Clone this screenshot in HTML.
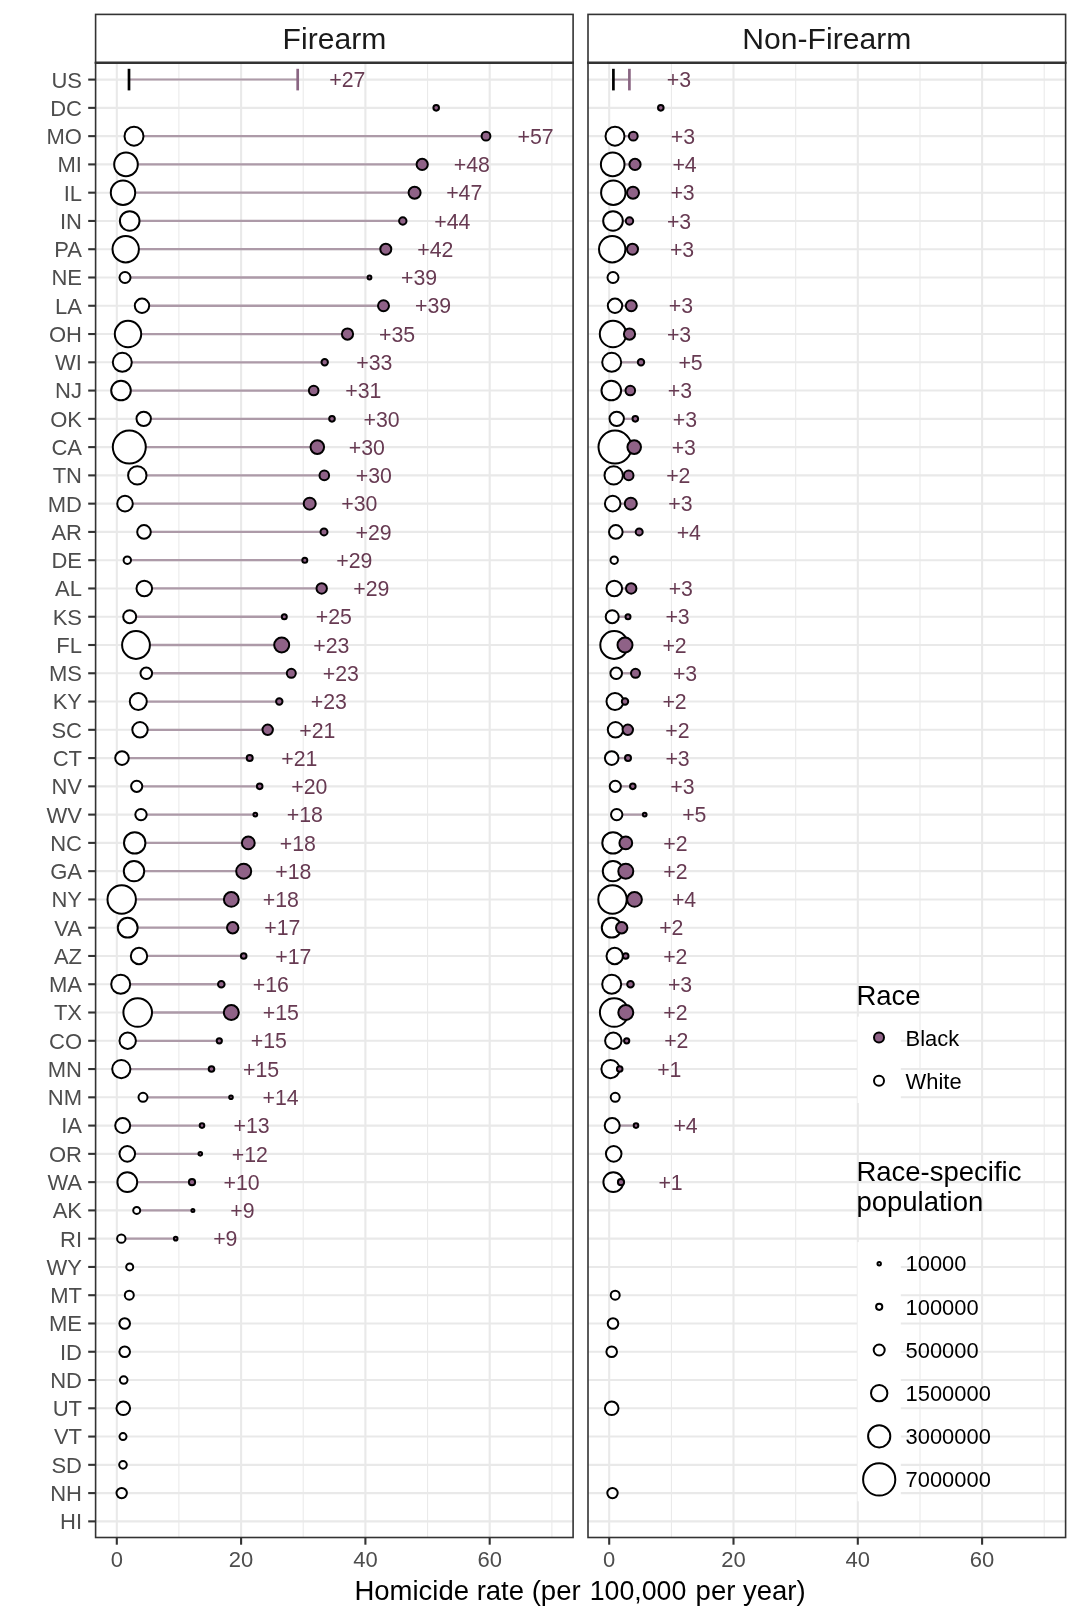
<!DOCTYPE html>
<html><head><meta charset="utf-8"><title>Homicide rate chart</title>
<style>html,body{margin:0;padding:0;background:#fff}svg{display:block;will-change:transform;transform:translateZ(0)}</style>
</head><body>
<svg width="1080" height="1620" viewBox="0 0 1080 1620" font-family="'Liberation Sans', sans-serif">
<rect width="1080" height="1620" fill="#ffffff"/>
<g id="panel0">
<g stroke="#e9e9e9" fill="none">
<line x1="178.9" y1="62.8" x2="178.9" y2="1537.5" stroke-width="1.05"/>
<line x1="303.2" y1="62.8" x2="303.2" y2="1537.5" stroke-width="1.05"/>
<line x1="427.6" y1="62.8" x2="427.6" y2="1537.5" stroke-width="1.05"/>
<line x1="551.9" y1="62.8" x2="551.9" y2="1537.5" stroke-width="1.05"/>
<line x1="116.8" y1="62.8" x2="116.8" y2="1537.5" stroke-width="2.1"/>
<line x1="241.1" y1="62.8" x2="241.1" y2="1537.5" stroke-width="2.1"/>
<line x1="365.4" y1="62.8" x2="365.4" y2="1537.5" stroke-width="2.1"/>
<line x1="489.7" y1="62.8" x2="489.7" y2="1537.5" stroke-width="2.1"/>
<line x1="95.6" y1="79.60" x2="573.1" y2="79.60" stroke-width="2.1"/>
<line x1="95.6" y1="107.87" x2="573.1" y2="107.87" stroke-width="2.1"/>
<line x1="95.6" y1="136.14" x2="573.1" y2="136.14" stroke-width="2.1"/>
<line x1="95.6" y1="164.41" x2="573.1" y2="164.41" stroke-width="2.1"/>
<line x1="95.6" y1="192.68" x2="573.1" y2="192.68" stroke-width="2.1"/>
<line x1="95.6" y1="220.95" x2="573.1" y2="220.95" stroke-width="2.1"/>
<line x1="95.6" y1="249.22" x2="573.1" y2="249.22" stroke-width="2.1"/>
<line x1="95.6" y1="277.49" x2="573.1" y2="277.49" stroke-width="2.1"/>
<line x1="95.6" y1="305.76" x2="573.1" y2="305.76" stroke-width="2.1"/>
<line x1="95.6" y1="334.03" x2="573.1" y2="334.03" stroke-width="2.1"/>
<line x1="95.6" y1="362.30" x2="573.1" y2="362.30" stroke-width="2.1"/>
<line x1="95.6" y1="390.57" x2="573.1" y2="390.57" stroke-width="2.1"/>
<line x1="95.6" y1="418.84" x2="573.1" y2="418.84" stroke-width="2.1"/>
<line x1="95.6" y1="447.11" x2="573.1" y2="447.11" stroke-width="2.1"/>
<line x1="95.6" y1="475.38" x2="573.1" y2="475.38" stroke-width="2.1"/>
<line x1="95.6" y1="503.65" x2="573.1" y2="503.65" stroke-width="2.1"/>
<line x1="95.6" y1="531.92" x2="573.1" y2="531.92" stroke-width="2.1"/>
<line x1="95.6" y1="560.19" x2="573.1" y2="560.19" stroke-width="2.1"/>
<line x1="95.6" y1="588.46" x2="573.1" y2="588.46" stroke-width="2.1"/>
<line x1="95.6" y1="616.73" x2="573.1" y2="616.73" stroke-width="2.1"/>
<line x1="95.6" y1="645.00" x2="573.1" y2="645.00" stroke-width="2.1"/>
<line x1="95.6" y1="673.27" x2="573.1" y2="673.27" stroke-width="2.1"/>
<line x1="95.6" y1="701.54" x2="573.1" y2="701.54" stroke-width="2.1"/>
<line x1="95.6" y1="729.81" x2="573.1" y2="729.81" stroke-width="2.1"/>
<line x1="95.6" y1="758.08" x2="573.1" y2="758.08" stroke-width="2.1"/>
<line x1="95.6" y1="786.35" x2="573.1" y2="786.35" stroke-width="2.1"/>
<line x1="95.6" y1="814.62" x2="573.1" y2="814.62" stroke-width="2.1"/>
<line x1="95.6" y1="842.89" x2="573.1" y2="842.89" stroke-width="2.1"/>
<line x1="95.6" y1="871.16" x2="573.1" y2="871.16" stroke-width="2.1"/>
<line x1="95.6" y1="899.43" x2="573.1" y2="899.43" stroke-width="2.1"/>
<line x1="95.6" y1="927.70" x2="573.1" y2="927.70" stroke-width="2.1"/>
<line x1="95.6" y1="955.97" x2="573.1" y2="955.97" stroke-width="2.1"/>
<line x1="95.6" y1="984.24" x2="573.1" y2="984.24" stroke-width="2.1"/>
<line x1="95.6" y1="1012.51" x2="573.1" y2="1012.51" stroke-width="2.1"/>
<line x1="95.6" y1="1040.78" x2="573.1" y2="1040.78" stroke-width="2.1"/>
<line x1="95.6" y1="1069.05" x2="573.1" y2="1069.05" stroke-width="2.1"/>
<line x1="95.6" y1="1097.32" x2="573.1" y2="1097.32" stroke-width="2.1"/>
<line x1="95.6" y1="1125.59" x2="573.1" y2="1125.59" stroke-width="2.1"/>
<line x1="95.6" y1="1153.86" x2="573.1" y2="1153.86" stroke-width="2.1"/>
<line x1="95.6" y1="1182.13" x2="573.1" y2="1182.13" stroke-width="2.1"/>
<line x1="95.6" y1="1210.40" x2="573.1" y2="1210.40" stroke-width="2.1"/>
<line x1="95.6" y1="1238.67" x2="573.1" y2="1238.67" stroke-width="2.1"/>
<line x1="95.6" y1="1266.94" x2="573.1" y2="1266.94" stroke-width="2.1"/>
<line x1="95.6" y1="1295.21" x2="573.1" y2="1295.21" stroke-width="2.1"/>
<line x1="95.6" y1="1323.48" x2="573.1" y2="1323.48" stroke-width="2.1"/>
<line x1="95.6" y1="1351.75" x2="573.1" y2="1351.75" stroke-width="2.1"/>
<line x1="95.6" y1="1380.02" x2="573.1" y2="1380.02" stroke-width="2.1"/>
<line x1="95.6" y1="1408.29" x2="573.1" y2="1408.29" stroke-width="2.1"/>
<line x1="95.6" y1="1436.56" x2="573.1" y2="1436.56" stroke-width="2.1"/>
<line x1="95.6" y1="1464.83" x2="573.1" y2="1464.83" stroke-width="2.1"/>
<line x1="95.6" y1="1493.10" x2="573.1" y2="1493.10" stroke-width="2.1"/>
<line x1="95.6" y1="1521.37" x2="573.1" y2="1521.37" stroke-width="2.1"/>
</g>
</g>
<g id="panel1">
<g stroke="#e9e9e9" fill="none">
<line x1="671.4" y1="62.8" x2="671.4" y2="1537.5" stroke-width="1.05"/>
<line x1="795.7" y1="62.8" x2="795.7" y2="1537.5" stroke-width="1.05"/>
<line x1="920.0" y1="62.8" x2="920.0" y2="1537.5" stroke-width="1.05"/>
<line x1="1044.2" y1="62.8" x2="1044.2" y2="1537.5" stroke-width="1.05"/>
<line x1="609.2" y1="62.8" x2="609.2" y2="1537.5" stroke-width="2.1"/>
<line x1="733.5" y1="62.8" x2="733.5" y2="1537.5" stroke-width="2.1"/>
<line x1="857.8" y1="62.8" x2="857.8" y2="1537.5" stroke-width="2.1"/>
<line x1="982.1" y1="62.8" x2="982.1" y2="1537.5" stroke-width="2.1"/>
<line x1="588.0" y1="79.60" x2="1065.6" y2="79.60" stroke-width="2.1"/>
<line x1="588.0" y1="107.87" x2="1065.6" y2="107.87" stroke-width="2.1"/>
<line x1="588.0" y1="136.14" x2="1065.6" y2="136.14" stroke-width="2.1"/>
<line x1="588.0" y1="164.41" x2="1065.6" y2="164.41" stroke-width="2.1"/>
<line x1="588.0" y1="192.68" x2="1065.6" y2="192.68" stroke-width="2.1"/>
<line x1="588.0" y1="220.95" x2="1065.6" y2="220.95" stroke-width="2.1"/>
<line x1="588.0" y1="249.22" x2="1065.6" y2="249.22" stroke-width="2.1"/>
<line x1="588.0" y1="277.49" x2="1065.6" y2="277.49" stroke-width="2.1"/>
<line x1="588.0" y1="305.76" x2="1065.6" y2="305.76" stroke-width="2.1"/>
<line x1="588.0" y1="334.03" x2="1065.6" y2="334.03" stroke-width="2.1"/>
<line x1="588.0" y1="362.30" x2="1065.6" y2="362.30" stroke-width="2.1"/>
<line x1="588.0" y1="390.57" x2="1065.6" y2="390.57" stroke-width="2.1"/>
<line x1="588.0" y1="418.84" x2="1065.6" y2="418.84" stroke-width="2.1"/>
<line x1="588.0" y1="447.11" x2="1065.6" y2="447.11" stroke-width="2.1"/>
<line x1="588.0" y1="475.38" x2="1065.6" y2="475.38" stroke-width="2.1"/>
<line x1="588.0" y1="503.65" x2="1065.6" y2="503.65" stroke-width="2.1"/>
<line x1="588.0" y1="531.92" x2="1065.6" y2="531.92" stroke-width="2.1"/>
<line x1="588.0" y1="560.19" x2="1065.6" y2="560.19" stroke-width="2.1"/>
<line x1="588.0" y1="588.46" x2="1065.6" y2="588.46" stroke-width="2.1"/>
<line x1="588.0" y1="616.73" x2="1065.6" y2="616.73" stroke-width="2.1"/>
<line x1="588.0" y1="645.00" x2="1065.6" y2="645.00" stroke-width="2.1"/>
<line x1="588.0" y1="673.27" x2="1065.6" y2="673.27" stroke-width="2.1"/>
<line x1="588.0" y1="701.54" x2="1065.6" y2="701.54" stroke-width="2.1"/>
<line x1="588.0" y1="729.81" x2="1065.6" y2="729.81" stroke-width="2.1"/>
<line x1="588.0" y1="758.08" x2="1065.6" y2="758.08" stroke-width="2.1"/>
<line x1="588.0" y1="786.35" x2="1065.6" y2="786.35" stroke-width="2.1"/>
<line x1="588.0" y1="814.62" x2="1065.6" y2="814.62" stroke-width="2.1"/>
<line x1="588.0" y1="842.89" x2="1065.6" y2="842.89" stroke-width="2.1"/>
<line x1="588.0" y1="871.16" x2="1065.6" y2="871.16" stroke-width="2.1"/>
<line x1="588.0" y1="899.43" x2="1065.6" y2="899.43" stroke-width="2.1"/>
<line x1="588.0" y1="927.70" x2="1065.6" y2="927.70" stroke-width="2.1"/>
<line x1="588.0" y1="955.97" x2="1065.6" y2="955.97" stroke-width="2.1"/>
<line x1="588.0" y1="984.24" x2="1065.6" y2="984.24" stroke-width="2.1"/>
<line x1="588.0" y1="1012.51" x2="1065.6" y2="1012.51" stroke-width="2.1"/>
<line x1="588.0" y1="1040.78" x2="1065.6" y2="1040.78" stroke-width="2.1"/>
<line x1="588.0" y1="1069.05" x2="1065.6" y2="1069.05" stroke-width="2.1"/>
<line x1="588.0" y1="1097.32" x2="1065.6" y2="1097.32" stroke-width="2.1"/>
<line x1="588.0" y1="1125.59" x2="1065.6" y2="1125.59" stroke-width="2.1"/>
<line x1="588.0" y1="1153.86" x2="1065.6" y2="1153.86" stroke-width="2.1"/>
<line x1="588.0" y1="1182.13" x2="1065.6" y2="1182.13" stroke-width="2.1"/>
<line x1="588.0" y1="1210.40" x2="1065.6" y2="1210.40" stroke-width="2.1"/>
<line x1="588.0" y1="1238.67" x2="1065.6" y2="1238.67" stroke-width="2.1"/>
<line x1="588.0" y1="1266.94" x2="1065.6" y2="1266.94" stroke-width="2.1"/>
<line x1="588.0" y1="1295.21" x2="1065.6" y2="1295.21" stroke-width="2.1"/>
<line x1="588.0" y1="1323.48" x2="1065.6" y2="1323.48" stroke-width="2.1"/>
<line x1="588.0" y1="1351.75" x2="1065.6" y2="1351.75" stroke-width="2.1"/>
<line x1="588.0" y1="1380.02" x2="1065.6" y2="1380.02" stroke-width="2.1"/>
<line x1="588.0" y1="1408.29" x2="1065.6" y2="1408.29" stroke-width="2.1"/>
<line x1="588.0" y1="1436.56" x2="1065.6" y2="1436.56" stroke-width="2.1"/>
<line x1="588.0" y1="1464.83" x2="1065.6" y2="1464.83" stroke-width="2.1"/>
<line x1="588.0" y1="1493.10" x2="1065.6" y2="1493.10" stroke-width="2.1"/>
<line x1="588.0" y1="1521.37" x2="1065.6" y2="1521.37" stroke-width="2.1"/>
</g>
</g>
<rect x="857.6" y="1016.6" width="43.2" height="86.4" fill="#ffffff"/>
<rect x="857.6" y="1242.1" width="43.2" height="259.2" fill="#ffffff"/>
<line x1="129.0" y1="79.60" x2="297.7" y2="79.60" stroke="#ad9aa8" stroke-width="2"/>
<line x1="129.0" y1="68.80" x2="129.0" y2="90.40" stroke="#000000" stroke-width="2.7"/>
<line x1="297.7" y1="68.80" x2="297.7" y2="90.40" stroke="#8a6582" stroke-width="2.7"/>
<text x="347.3" y="87.30" font-size="21.3" fill="#673a52" text-anchor="middle">+27</text>
<line x1="613.4" y1="79.60" x2="629.4" y2="79.60" stroke="#ad9aa8" stroke-width="2"/>
<line x1="613.4" y1="68.80" x2="613.4" y2="90.40" stroke="#000000" stroke-width="2.7"/>
<line x1="629.4" y1="68.80" x2="629.4" y2="90.40" stroke="#8a6582" stroke-width="2.7"/>
<text x="679.0" y="87.30" font-size="21.3" fill="#673a52" text-anchor="middle">+3</text>
<g id="segs">
<line x1="134.0" y1="136.14" x2="486.0" y2="136.14" stroke="#ad9aa8" stroke-width="2.3"/>
<line x1="126.0" y1="164.41" x2="422.2" y2="164.41" stroke="#ad9aa8" stroke-width="2.3"/>
<line x1="123.0" y1="192.68" x2="414.6" y2="192.68" stroke="#ad9aa8" stroke-width="2.3"/>
<line x1="129.7" y1="220.95" x2="402.8" y2="220.95" stroke="#ad9aa8" stroke-width="2.3"/>
<line x1="125.7" y1="249.22" x2="385.8" y2="249.22" stroke="#ad9aa8" stroke-width="2.3"/>
<line x1="125.0" y1="277.49" x2="369.5" y2="277.49" stroke="#ad9aa8" stroke-width="2.3"/>
<line x1="142.0" y1="305.76" x2="383.5" y2="305.76" stroke="#ad9aa8" stroke-width="2.3"/>
<line x1="128.0" y1="334.03" x2="347.5" y2="334.03" stroke="#ad9aa8" stroke-width="2.3"/>
<line x1="122.3" y1="362.30" x2="324.7" y2="362.30" stroke="#ad9aa8" stroke-width="2.3"/>
<line x1="121.0" y1="390.57" x2="313.7" y2="390.57" stroke="#ad9aa8" stroke-width="2.3"/>
<line x1="143.7" y1="418.84" x2="332.0" y2="418.84" stroke="#ad9aa8" stroke-width="2.3"/>
<line x1="129.3" y1="447.11" x2="317.3" y2="447.11" stroke="#ad9aa8" stroke-width="2.3"/>
<line x1="137.3" y1="475.38" x2="324.3" y2="475.38" stroke="#ad9aa8" stroke-width="2.3"/>
<line x1="125.0" y1="503.65" x2="309.7" y2="503.65" stroke="#ad9aa8" stroke-width="2.3"/>
<line x1="144.0" y1="531.92" x2="324.0" y2="531.92" stroke="#ad9aa8" stroke-width="2.3"/>
<line x1="127.3" y1="560.19" x2="304.8" y2="560.19" stroke="#ad9aa8" stroke-width="2.3"/>
<line x1="144.3" y1="588.46" x2="321.7" y2="588.46" stroke="#ad9aa8" stroke-width="2.3"/>
<line x1="129.7" y1="616.73" x2="284.3" y2="616.73" stroke="#ad9aa8" stroke-width="2.3"/>
<line x1="136.0" y1="645.00" x2="281.7" y2="645.00" stroke="#ad9aa8" stroke-width="2.3"/>
<line x1="146.3" y1="673.27" x2="291.3" y2="673.27" stroke="#ad9aa8" stroke-width="2.3"/>
<line x1="138.3" y1="701.54" x2="279.3" y2="701.54" stroke="#ad9aa8" stroke-width="2.3"/>
<line x1="140.0" y1="729.81" x2="267.7" y2="729.81" stroke="#ad9aa8" stroke-width="2.3"/>
<line x1="122.0" y1="758.08" x2="249.7" y2="758.08" stroke="#ad9aa8" stroke-width="2.3"/>
<line x1="136.7" y1="786.35" x2="259.7" y2="786.35" stroke="#ad9aa8" stroke-width="2.3"/>
<line x1="141.0" y1="814.62" x2="255.3" y2="814.62" stroke="#ad9aa8" stroke-width="2.3"/>
<line x1="134.7" y1="842.89" x2="248.3" y2="842.89" stroke="#ad9aa8" stroke-width="2.3"/>
<line x1="134.0" y1="871.16" x2="243.7" y2="871.16" stroke="#ad9aa8" stroke-width="2.3"/>
<line x1="121.7" y1="899.43" x2="231.3" y2="899.43" stroke="#ad9aa8" stroke-width="2.3"/>
<line x1="127.7" y1="927.70" x2="232.7" y2="927.70" stroke="#ad9aa8" stroke-width="2.3"/>
<line x1="139.0" y1="955.97" x2="243.7" y2="955.97" stroke="#ad9aa8" stroke-width="2.3"/>
<line x1="120.7" y1="984.24" x2="221.3" y2="984.24" stroke="#ad9aa8" stroke-width="2.3"/>
<line x1="137.7" y1="1012.51" x2="231.3" y2="1012.51" stroke="#ad9aa8" stroke-width="2.3"/>
<line x1="127.7" y1="1040.78" x2="219.3" y2="1040.78" stroke="#ad9aa8" stroke-width="2.3"/>
<line x1="121.3" y1="1069.05" x2="211.5" y2="1069.05" stroke="#ad9aa8" stroke-width="2.3"/>
<line x1="143.0" y1="1097.32" x2="231.0" y2="1097.32" stroke="#ad9aa8" stroke-width="2.3"/>
<line x1="122.7" y1="1125.59" x2="202.0" y2="1125.59" stroke="#ad9aa8" stroke-width="2.3"/>
<line x1="127.3" y1="1153.86" x2="200.3" y2="1153.86" stroke="#ad9aa8" stroke-width="2.3"/>
<line x1="127.3" y1="1182.13" x2="192.0" y2="1182.13" stroke="#ad9aa8" stroke-width="2.3"/>
<line x1="136.7" y1="1210.40" x2="192.9" y2="1210.40" stroke="#ad9aa8" stroke-width="2.3"/>
<line x1="121.3" y1="1238.67" x2="175.7" y2="1238.67" stroke="#ad9aa8" stroke-width="2.3"/>
<line x1="615.0" y1="136.14" x2="633.3" y2="136.14" stroke="#ad9aa8" stroke-width="2.3"/>
<line x1="612.7" y1="164.41" x2="635.0" y2="164.41" stroke="#ad9aa8" stroke-width="2.3"/>
<line x1="613.3" y1="192.68" x2="633.0" y2="192.68" stroke="#ad9aa8" stroke-width="2.3"/>
<line x1="613.0" y1="220.95" x2="629.5" y2="220.95" stroke="#ad9aa8" stroke-width="2.3"/>
<line x1="612.2" y1="249.22" x2="632.5" y2="249.22" stroke="#ad9aa8" stroke-width="2.3"/>
<line x1="615.0" y1="305.76" x2="631.3" y2="305.76" stroke="#ad9aa8" stroke-width="2.3"/>
<line x1="613.0" y1="334.03" x2="629.5" y2="334.03" stroke="#ad9aa8" stroke-width="2.3"/>
<line x1="611.7" y1="362.30" x2="641.0" y2="362.30" stroke="#ad9aa8" stroke-width="2.3"/>
<line x1="611.3" y1="390.57" x2="630.3" y2="390.57" stroke="#ad9aa8" stroke-width="2.3"/>
<line x1="616.7" y1="418.84" x2="635.3" y2="418.84" stroke="#ad9aa8" stroke-width="2.3"/>
<line x1="615.0" y1="447.11" x2="634.2" y2="447.11" stroke="#ad9aa8" stroke-width="2.3"/>
<line x1="613.7" y1="475.38" x2="628.7" y2="475.38" stroke="#ad9aa8" stroke-width="2.3"/>
<line x1="612.7" y1="503.65" x2="630.8" y2="503.65" stroke="#ad9aa8" stroke-width="2.3"/>
<line x1="615.8" y1="531.92" x2="639.2" y2="531.92" stroke="#ad9aa8" stroke-width="2.3"/>
<line x1="614.3" y1="588.46" x2="631.2" y2="588.46" stroke="#ad9aa8" stroke-width="2.3"/>
<line x1="612.2" y1="616.73" x2="628.0" y2="616.73" stroke="#ad9aa8" stroke-width="2.3"/>
<line x1="614.2" y1="645.00" x2="625.0" y2="645.00" stroke="#ad9aa8" stroke-width="2.3"/>
<line x1="616.2" y1="673.27" x2="635.5" y2="673.27" stroke="#ad9aa8" stroke-width="2.3"/>
<line x1="615.0" y1="701.54" x2="625.0" y2="701.54" stroke="#ad9aa8" stroke-width="2.3"/>
<line x1="615.5" y1="729.81" x2="627.8" y2="729.81" stroke="#ad9aa8" stroke-width="2.3"/>
<line x1="611.7" y1="758.08" x2="628.0" y2="758.08" stroke="#ad9aa8" stroke-width="2.3"/>
<line x1="615.3" y1="786.35" x2="632.8" y2="786.35" stroke="#ad9aa8" stroke-width="2.3"/>
<line x1="616.7" y1="814.62" x2="644.7" y2="814.62" stroke="#ad9aa8" stroke-width="2.3"/>
<line x1="613.0" y1="842.89" x2="625.8" y2="842.89" stroke="#ad9aa8" stroke-width="2.3"/>
<line x1="613.0" y1="871.16" x2="625.8" y2="871.16" stroke="#ad9aa8" stroke-width="2.3"/>
<line x1="612.5" y1="899.43" x2="634.5" y2="899.43" stroke="#ad9aa8" stroke-width="2.3"/>
<line x1="611.7" y1="927.70" x2="621.7" y2="927.70" stroke="#ad9aa8" stroke-width="2.3"/>
<line x1="614.7" y1="955.97" x2="625.7" y2="955.97" stroke="#ad9aa8" stroke-width="2.3"/>
<line x1="611.7" y1="984.24" x2="630.5" y2="984.24" stroke="#ad9aa8" stroke-width="2.3"/>
<line x1="614.2" y1="1012.51" x2="625.8" y2="1012.51" stroke="#ad9aa8" stroke-width="2.3"/>
<line x1="613.3" y1="1040.78" x2="626.7" y2="1040.78" stroke="#ad9aa8" stroke-width="2.3"/>
<line x1="610.5" y1="1069.05" x2="619.7" y2="1069.05" stroke="#ad9aa8" stroke-width="2.3"/>
<line x1="612.2" y1="1125.59" x2="636.0" y2="1125.59" stroke="#ad9aa8" stroke-width="2.3"/>
<line x1="613.3" y1="1182.13" x2="621.0" y2="1182.13" stroke="#ad9aa8" stroke-width="2.3"/>
</g>
<g id="white">
<circle cx="134.0" cy="136.14" r="9.50" fill="#ffffff" stroke="#000000" stroke-width="2.0"/>
<circle cx="126.0" cy="164.41" r="11.80" fill="#ffffff" stroke="#000000" stroke-width="2.0"/>
<circle cx="123.0" cy="192.68" r="12.20" fill="#ffffff" stroke="#000000" stroke-width="2.0"/>
<circle cx="129.7" cy="220.95" r="9.80" fill="#ffffff" stroke="#000000" stroke-width="2.0"/>
<circle cx="125.7" cy="249.22" r="13.20" fill="#ffffff" stroke="#000000" stroke-width="2.0"/>
<circle cx="125.0" cy="277.49" r="5.50" fill="#ffffff" stroke="#000000" stroke-width="2.0"/>
<circle cx="142.0" cy="305.76" r="7.20" fill="#ffffff" stroke="#000000" stroke-width="2.0"/>
<circle cx="128.0" cy="334.03" r="13.20" fill="#ffffff" stroke="#000000" stroke-width="2.0"/>
<circle cx="122.3" cy="362.30" r="9.50" fill="#ffffff" stroke="#000000" stroke-width="2.0"/>
<circle cx="121.0" cy="390.57" r="9.80" fill="#ffffff" stroke="#000000" stroke-width="2.0"/>
<circle cx="143.7" cy="418.84" r="7.20" fill="#ffffff" stroke="#000000" stroke-width="2.0"/>
<circle cx="129.3" cy="447.11" r="16.50" fill="#ffffff" stroke="#000000" stroke-width="2.0"/>
<circle cx="137.3" cy="475.38" r="9.20" fill="#ffffff" stroke="#000000" stroke-width="2.0"/>
<circle cx="125.0" cy="503.65" r="7.80" fill="#ffffff" stroke="#000000" stroke-width="2.0"/>
<circle cx="144.0" cy="531.92" r="6.80" fill="#ffffff" stroke="#000000" stroke-width="2.0"/>
<circle cx="127.3" cy="560.19" r="3.70" fill="#ffffff" stroke="#000000" stroke-width="2.0"/>
<circle cx="144.3" cy="588.46" r="7.80" fill="#ffffff" stroke="#000000" stroke-width="2.0"/>
<circle cx="129.7" cy="616.73" r="6.50" fill="#ffffff" stroke="#000000" stroke-width="2.0"/>
<circle cx="136.0" cy="645.00" r="13.90" fill="#ffffff" stroke="#000000" stroke-width="2.0"/>
<circle cx="146.3" cy="673.27" r="5.80" fill="#ffffff" stroke="#000000" stroke-width="2.0"/>
<circle cx="138.3" cy="701.54" r="8.50" fill="#ffffff" stroke="#000000" stroke-width="2.0"/>
<circle cx="140.0" cy="729.81" r="7.70" fill="#ffffff" stroke="#000000" stroke-width="2.0"/>
<circle cx="122.0" cy="758.08" r="6.80" fill="#ffffff" stroke="#000000" stroke-width="2.0"/>
<circle cx="136.7" cy="786.35" r="5.60" fill="#ffffff" stroke="#000000" stroke-width="2.0"/>
<circle cx="141.0" cy="814.62" r="5.70" fill="#ffffff" stroke="#000000" stroke-width="2.0"/>
<circle cx="134.7" cy="842.89" r="10.70" fill="#ffffff" stroke="#000000" stroke-width="2.0"/>
<circle cx="134.0" cy="871.16" r="10.20" fill="#ffffff" stroke="#000000" stroke-width="2.0"/>
<circle cx="121.7" cy="899.43" r="14.20" fill="#ffffff" stroke="#000000" stroke-width="2.0"/>
<circle cx="127.7" cy="927.70" r="9.90" fill="#ffffff" stroke="#000000" stroke-width="2.0"/>
<circle cx="139.0" cy="955.97" r="8.20" fill="#ffffff" stroke="#000000" stroke-width="2.0"/>
<circle cx="120.7" cy="984.24" r="9.50" fill="#ffffff" stroke="#000000" stroke-width="2.0"/>
<circle cx="137.7" cy="1012.51" r="14.30" fill="#ffffff" stroke="#000000" stroke-width="2.0"/>
<circle cx="127.7" cy="1040.78" r="8.20" fill="#ffffff" stroke="#000000" stroke-width="2.0"/>
<circle cx="121.3" cy="1069.05" r="9.10" fill="#ffffff" stroke="#000000" stroke-width="2.0"/>
<circle cx="143.0" cy="1097.32" r="4.50" fill="#ffffff" stroke="#000000" stroke-width="2.0"/>
<circle cx="122.7" cy="1125.59" r="7.50" fill="#ffffff" stroke="#000000" stroke-width="2.0"/>
<circle cx="127.3" cy="1153.86" r="7.80" fill="#ffffff" stroke="#000000" stroke-width="2.0"/>
<circle cx="127.3" cy="1182.13" r="9.90" fill="#ffffff" stroke="#000000" stroke-width="2.0"/>
<circle cx="136.7" cy="1210.40" r="3.50" fill="#ffffff" stroke="#000000" stroke-width="2.0"/>
<circle cx="121.3" cy="1238.67" r="4.20" fill="#ffffff" stroke="#000000" stroke-width="2.0"/>
<circle cx="129.7" cy="1266.94" r="3.50" fill="#ffffff" stroke="#000000" stroke-width="2.0"/>
<circle cx="129.3" cy="1295.21" r="4.50" fill="#ffffff" stroke="#000000" stroke-width="2.0"/>
<circle cx="124.7" cy="1323.48" r="5.30" fill="#ffffff" stroke="#000000" stroke-width="2.0"/>
<circle cx="124.7" cy="1351.75" r="5.30" fill="#ffffff" stroke="#000000" stroke-width="2.0"/>
<circle cx="123.7" cy="1380.02" r="3.80" fill="#ffffff" stroke="#000000" stroke-width="2.0"/>
<circle cx="123.3" cy="1408.29" r="6.80" fill="#ffffff" stroke="#000000" stroke-width="2.0"/>
<circle cx="123.0" cy="1436.56" r="3.50" fill="#ffffff" stroke="#000000" stroke-width="2.0"/>
<circle cx="123.0" cy="1464.83" r="3.80" fill="#ffffff" stroke="#000000" stroke-width="2.0"/>
<circle cx="121.7" cy="1493.10" r="5.20" fill="#ffffff" stroke="#000000" stroke-width="2.0"/>
<circle cx="615.0" cy="136.14" r="9.50" fill="#ffffff" stroke="#000000" stroke-width="2.0"/>
<circle cx="612.7" cy="164.41" r="11.80" fill="#ffffff" stroke="#000000" stroke-width="2.0"/>
<circle cx="613.3" cy="192.68" r="12.20" fill="#ffffff" stroke="#000000" stroke-width="2.0"/>
<circle cx="613.0" cy="220.95" r="9.80" fill="#ffffff" stroke="#000000" stroke-width="2.0"/>
<circle cx="612.2" cy="249.22" r="13.20" fill="#ffffff" stroke="#000000" stroke-width="2.0"/>
<circle cx="613.0" cy="277.49" r="5.50" fill="#ffffff" stroke="#000000" stroke-width="2.0"/>
<circle cx="615.0" cy="305.76" r="7.20" fill="#ffffff" stroke="#000000" stroke-width="2.0"/>
<circle cx="613.0" cy="334.03" r="13.20" fill="#ffffff" stroke="#000000" stroke-width="2.0"/>
<circle cx="611.7" cy="362.30" r="9.50" fill="#ffffff" stroke="#000000" stroke-width="2.0"/>
<circle cx="611.3" cy="390.57" r="9.80" fill="#ffffff" stroke="#000000" stroke-width="2.0"/>
<circle cx="616.7" cy="418.84" r="7.20" fill="#ffffff" stroke="#000000" stroke-width="2.0"/>
<circle cx="615.0" cy="447.11" r="16.50" fill="#ffffff" stroke="#000000" stroke-width="2.0"/>
<circle cx="613.7" cy="475.38" r="9.20" fill="#ffffff" stroke="#000000" stroke-width="2.0"/>
<circle cx="612.7" cy="503.65" r="7.80" fill="#ffffff" stroke="#000000" stroke-width="2.0"/>
<circle cx="615.8" cy="531.92" r="6.80" fill="#ffffff" stroke="#000000" stroke-width="2.0"/>
<circle cx="614.2" cy="560.19" r="3.70" fill="#ffffff" stroke="#000000" stroke-width="2.0"/>
<circle cx="614.3" cy="588.46" r="7.80" fill="#ffffff" stroke="#000000" stroke-width="2.0"/>
<circle cx="612.2" cy="616.73" r="6.50" fill="#ffffff" stroke="#000000" stroke-width="2.0"/>
<circle cx="614.2" cy="645.00" r="13.90" fill="#ffffff" stroke="#000000" stroke-width="2.0"/>
<circle cx="616.2" cy="673.27" r="5.80" fill="#ffffff" stroke="#000000" stroke-width="2.0"/>
<circle cx="615.0" cy="701.54" r="8.50" fill="#ffffff" stroke="#000000" stroke-width="2.0"/>
<circle cx="615.5" cy="729.81" r="7.70" fill="#ffffff" stroke="#000000" stroke-width="2.0"/>
<circle cx="611.7" cy="758.08" r="6.80" fill="#ffffff" stroke="#000000" stroke-width="2.0"/>
<circle cx="615.3" cy="786.35" r="5.60" fill="#ffffff" stroke="#000000" stroke-width="2.0"/>
<circle cx="616.7" cy="814.62" r="5.70" fill="#ffffff" stroke="#000000" stroke-width="2.0"/>
<circle cx="613.0" cy="842.89" r="10.70" fill="#ffffff" stroke="#000000" stroke-width="2.0"/>
<circle cx="613.0" cy="871.16" r="10.20" fill="#ffffff" stroke="#000000" stroke-width="2.0"/>
<circle cx="612.5" cy="899.43" r="14.20" fill="#ffffff" stroke="#000000" stroke-width="2.0"/>
<circle cx="611.7" cy="927.70" r="9.90" fill="#ffffff" stroke="#000000" stroke-width="2.0"/>
<circle cx="614.7" cy="955.97" r="8.20" fill="#ffffff" stroke="#000000" stroke-width="2.0"/>
<circle cx="611.7" cy="984.24" r="9.50" fill="#ffffff" stroke="#000000" stroke-width="2.0"/>
<circle cx="614.2" cy="1012.51" r="14.30" fill="#ffffff" stroke="#000000" stroke-width="2.0"/>
<circle cx="613.3" cy="1040.78" r="8.20" fill="#ffffff" stroke="#000000" stroke-width="2.0"/>
<circle cx="610.5" cy="1069.05" r="9.10" fill="#ffffff" stroke="#000000" stroke-width="2.0"/>
<circle cx="615.2" cy="1097.32" r="4.50" fill="#ffffff" stroke="#000000" stroke-width="2.0"/>
<circle cx="612.2" cy="1125.59" r="7.50" fill="#ffffff" stroke="#000000" stroke-width="2.0"/>
<circle cx="613.7" cy="1153.86" r="7.80" fill="#ffffff" stroke="#000000" stroke-width="2.0"/>
<circle cx="613.3" cy="1182.13" r="9.90" fill="#ffffff" stroke="#000000" stroke-width="2.0"/>
<circle cx="615.2" cy="1295.21" r="4.50" fill="#ffffff" stroke="#000000" stroke-width="2.0"/>
<circle cx="613.0" cy="1323.48" r="5.30" fill="#ffffff" stroke="#000000" stroke-width="2.0"/>
<circle cx="611.7" cy="1351.75" r="5.30" fill="#ffffff" stroke="#000000" stroke-width="2.0"/>
<circle cx="611.7" cy="1408.29" r="6.80" fill="#ffffff" stroke="#000000" stroke-width="2.0"/>
<circle cx="612.5" cy="1493.10" r="5.20" fill="#ffffff" stroke="#000000" stroke-width="2.0"/>
</g>
<g id="black">
<circle cx="436.2" cy="107.87" r="2.80" fill="#8f6287" stroke="#000000" stroke-width="2.0"/>
<circle cx="486.0" cy="136.14" r="4.40" fill="#8f6287" stroke="#000000" stroke-width="2.0"/>
<circle cx="422.2" cy="164.41" r="5.60" fill="#8f6287" stroke="#000000" stroke-width="2.0"/>
<circle cx="414.6" cy="192.68" r="6.00" fill="#8f6287" stroke="#000000" stroke-width="2.0"/>
<circle cx="402.8" cy="220.95" r="3.70" fill="#8f6287" stroke="#000000" stroke-width="2.0"/>
<circle cx="385.8" cy="249.22" r="5.50" fill="#8f6287" stroke="#000000" stroke-width="2.0"/>
<circle cx="369.5" cy="277.49" r="1.90" fill="#8f6287" stroke="#000000" stroke-width="2.0"/>
<circle cx="383.5" cy="305.76" r="5.50" fill="#8f6287" stroke="#000000" stroke-width="2.0"/>
<circle cx="347.5" cy="334.03" r="5.60" fill="#8f6287" stroke="#000000" stroke-width="2.0"/>
<circle cx="324.7" cy="362.30" r="3.20" fill="#8f6287" stroke="#000000" stroke-width="2.0"/>
<circle cx="313.7" cy="390.57" r="4.80" fill="#8f6287" stroke="#000000" stroke-width="2.0"/>
<circle cx="332.0" cy="418.84" r="2.80" fill="#8f6287" stroke="#000000" stroke-width="2.0"/>
<circle cx="317.3" cy="447.11" r="6.80" fill="#8f6287" stroke="#000000" stroke-width="2.0"/>
<circle cx="324.3" cy="475.38" r="4.80" fill="#8f6287" stroke="#000000" stroke-width="2.0"/>
<circle cx="309.7" cy="503.65" r="6.00" fill="#8f6287" stroke="#000000" stroke-width="2.0"/>
<circle cx="324.0" cy="531.92" r="3.50" fill="#8f6287" stroke="#000000" stroke-width="2.0"/>
<circle cx="304.8" cy="560.19" r="2.50" fill="#8f6287" stroke="#000000" stroke-width="2.0"/>
<circle cx="321.7" cy="588.46" r="5.20" fill="#8f6287" stroke="#000000" stroke-width="2.0"/>
<circle cx="284.3" cy="616.73" r="2.50" fill="#8f6287" stroke="#000000" stroke-width="2.0"/>
<circle cx="281.7" cy="645.00" r="7.50" fill="#8f6287" stroke="#000000" stroke-width="2.0"/>
<circle cx="291.3" cy="673.27" r="4.50" fill="#8f6287" stroke="#000000" stroke-width="2.0"/>
<circle cx="279.3" cy="701.54" r="3.20" fill="#8f6287" stroke="#000000" stroke-width="2.0"/>
<circle cx="267.7" cy="729.81" r="5.20" fill="#8f6287" stroke="#000000" stroke-width="2.0"/>
<circle cx="249.7" cy="758.08" r="3.00" fill="#8f6287" stroke="#000000" stroke-width="2.0"/>
<circle cx="259.7" cy="786.35" r="2.80" fill="#8f6287" stroke="#000000" stroke-width="2.0"/>
<circle cx="255.3" cy="814.62" r="1.90" fill="#8f6287" stroke="#000000" stroke-width="2.0"/>
<circle cx="248.3" cy="842.89" r="6.40" fill="#8f6287" stroke="#000000" stroke-width="2.0"/>
<circle cx="243.7" cy="871.16" r="7.50" fill="#8f6287" stroke="#000000" stroke-width="2.0"/>
<circle cx="231.3" cy="899.43" r="7.40" fill="#8f6287" stroke="#000000" stroke-width="2.0"/>
<circle cx="232.7" cy="927.70" r="5.70" fill="#8f6287" stroke="#000000" stroke-width="2.0"/>
<circle cx="243.7" cy="955.97" r="2.80" fill="#8f6287" stroke="#000000" stroke-width="2.0"/>
<circle cx="221.3" cy="984.24" r="3.30" fill="#8f6287" stroke="#000000" stroke-width="2.0"/>
<circle cx="231.3" cy="1012.51" r="7.50" fill="#8f6287" stroke="#000000" stroke-width="2.0"/>
<circle cx="219.3" cy="1040.78" r="2.60" fill="#8f6287" stroke="#000000" stroke-width="2.0"/>
<circle cx="211.5" cy="1069.05" r="2.80" fill="#8f6287" stroke="#000000" stroke-width="2.0"/>
<circle cx="231.0" cy="1097.32" r="1.80" fill="#8f6287" stroke="#000000" stroke-width="2.0"/>
<circle cx="202.0" cy="1125.59" r="2.30" fill="#8f6287" stroke="#000000" stroke-width="2.0"/>
<circle cx="200.3" cy="1153.86" r="1.80" fill="#8f6287" stroke="#000000" stroke-width="2.0"/>
<circle cx="192.0" cy="1182.13" r="3.10" fill="#8f6287" stroke="#000000" stroke-width="2.0"/>
<circle cx="192.9" cy="1210.40" r="1.50" fill="#8f6287" stroke="#000000" stroke-width="2.0"/>
<circle cx="175.7" cy="1238.67" r="1.80" fill="#8f6287" stroke="#000000" stroke-width="2.0"/>
<circle cx="660.8" cy="107.87" r="2.80" fill="#8f6287" stroke="#000000" stroke-width="2.0"/>
<circle cx="633.3" cy="136.14" r="4.40" fill="#8f6287" stroke="#000000" stroke-width="2.0"/>
<circle cx="635.0" cy="164.41" r="5.60" fill="#8f6287" stroke="#000000" stroke-width="2.0"/>
<circle cx="633.0" cy="192.68" r="6.00" fill="#8f6287" stroke="#000000" stroke-width="2.0"/>
<circle cx="629.5" cy="220.95" r="3.70" fill="#8f6287" stroke="#000000" stroke-width="2.0"/>
<circle cx="632.5" cy="249.22" r="5.50" fill="#8f6287" stroke="#000000" stroke-width="2.0"/>
<circle cx="631.3" cy="305.76" r="5.50" fill="#8f6287" stroke="#000000" stroke-width="2.0"/>
<circle cx="629.5" cy="334.03" r="5.60" fill="#8f6287" stroke="#000000" stroke-width="2.0"/>
<circle cx="641.0" cy="362.30" r="3.20" fill="#8f6287" stroke="#000000" stroke-width="2.0"/>
<circle cx="630.3" cy="390.57" r="4.80" fill="#8f6287" stroke="#000000" stroke-width="2.0"/>
<circle cx="635.3" cy="418.84" r="2.80" fill="#8f6287" stroke="#000000" stroke-width="2.0"/>
<circle cx="634.2" cy="447.11" r="6.80" fill="#8f6287" stroke="#000000" stroke-width="2.0"/>
<circle cx="628.7" cy="475.38" r="4.80" fill="#8f6287" stroke="#000000" stroke-width="2.0"/>
<circle cx="630.8" cy="503.65" r="6.00" fill="#8f6287" stroke="#000000" stroke-width="2.0"/>
<circle cx="639.2" cy="531.92" r="3.50" fill="#8f6287" stroke="#000000" stroke-width="2.0"/>
<circle cx="631.2" cy="588.46" r="5.20" fill="#8f6287" stroke="#000000" stroke-width="2.0"/>
<circle cx="628.0" cy="616.73" r="2.50" fill="#8f6287" stroke="#000000" stroke-width="2.0"/>
<circle cx="625.0" cy="645.00" r="7.50" fill="#8f6287" stroke="#000000" stroke-width="2.0"/>
<circle cx="635.5" cy="673.27" r="4.50" fill="#8f6287" stroke="#000000" stroke-width="2.0"/>
<circle cx="625.0" cy="701.54" r="3.20" fill="#8f6287" stroke="#000000" stroke-width="2.0"/>
<circle cx="627.8" cy="729.81" r="5.20" fill="#8f6287" stroke="#000000" stroke-width="2.0"/>
<circle cx="628.0" cy="758.08" r="3.00" fill="#8f6287" stroke="#000000" stroke-width="2.0"/>
<circle cx="632.8" cy="786.35" r="2.80" fill="#8f6287" stroke="#000000" stroke-width="2.0"/>
<circle cx="644.7" cy="814.62" r="1.90" fill="#8f6287" stroke="#000000" stroke-width="2.0"/>
<circle cx="625.8" cy="842.89" r="6.40" fill="#8f6287" stroke="#000000" stroke-width="2.0"/>
<circle cx="625.8" cy="871.16" r="7.50" fill="#8f6287" stroke="#000000" stroke-width="2.0"/>
<circle cx="634.5" cy="899.43" r="7.40" fill="#8f6287" stroke="#000000" stroke-width="2.0"/>
<circle cx="621.7" cy="927.70" r="5.70" fill="#8f6287" stroke="#000000" stroke-width="2.0"/>
<circle cx="625.7" cy="955.97" r="2.80" fill="#8f6287" stroke="#000000" stroke-width="2.0"/>
<circle cx="630.5" cy="984.24" r="3.30" fill="#8f6287" stroke="#000000" stroke-width="2.0"/>
<circle cx="625.8" cy="1012.51" r="7.50" fill="#8f6287" stroke="#000000" stroke-width="2.0"/>
<circle cx="626.7" cy="1040.78" r="2.60" fill="#8f6287" stroke="#000000" stroke-width="2.0"/>
<circle cx="619.7" cy="1069.05" r="2.80" fill="#8f6287" stroke="#000000" stroke-width="2.0"/>
<circle cx="636.0" cy="1125.59" r="2.30" fill="#8f6287" stroke="#000000" stroke-width="2.0"/>
<circle cx="621.0" cy="1182.13" r="3.10" fill="#8f6287" stroke="#000000" stroke-width="2.0"/>
</g>
<g id="labels">
<text x="535.6" y="143.84" font-size="21.3" fill="#673a52" text-anchor="middle">+57</text>
<text x="471.8" y="172.11" font-size="21.3" fill="#673a52" text-anchor="middle">+48</text>
<text x="464.2" y="200.38" font-size="21.3" fill="#673a52" text-anchor="middle">+47</text>
<text x="452.4" y="228.65" font-size="21.3" fill="#673a52" text-anchor="middle">+44</text>
<text x="435.4" y="256.92" font-size="21.3" fill="#673a52" text-anchor="middle">+42</text>
<text x="419.1" y="285.19" font-size="21.3" fill="#673a52" text-anchor="middle">+39</text>
<text x="433.1" y="313.46" font-size="21.3" fill="#673a52" text-anchor="middle">+39</text>
<text x="397.1" y="341.73" font-size="21.3" fill="#673a52" text-anchor="middle">+35</text>
<text x="374.3" y="370.00" font-size="21.3" fill="#673a52" text-anchor="middle">+33</text>
<text x="363.3" y="398.27" font-size="21.3" fill="#673a52" text-anchor="middle">+31</text>
<text x="381.6" y="426.54" font-size="21.3" fill="#673a52" text-anchor="middle">+30</text>
<text x="366.9" y="454.81" font-size="21.3" fill="#673a52" text-anchor="middle">+30</text>
<text x="373.9" y="483.08" font-size="21.3" fill="#673a52" text-anchor="middle">+30</text>
<text x="359.3" y="511.35" font-size="21.3" fill="#673a52" text-anchor="middle">+30</text>
<text x="373.6" y="539.62" font-size="21.3" fill="#673a52" text-anchor="middle">+29</text>
<text x="354.4" y="567.89" font-size="21.3" fill="#673a52" text-anchor="middle">+29</text>
<text x="371.3" y="596.16" font-size="21.3" fill="#673a52" text-anchor="middle">+29</text>
<text x="333.9" y="624.43" font-size="21.3" fill="#673a52" text-anchor="middle">+25</text>
<text x="331.3" y="652.70" font-size="21.3" fill="#673a52" text-anchor="middle">+23</text>
<text x="340.9" y="680.97" font-size="21.3" fill="#673a52" text-anchor="middle">+23</text>
<text x="328.9" y="709.24" font-size="21.3" fill="#673a52" text-anchor="middle">+23</text>
<text x="317.3" y="737.51" font-size="21.3" fill="#673a52" text-anchor="middle">+21</text>
<text x="299.3" y="765.78" font-size="21.3" fill="#673a52" text-anchor="middle">+21</text>
<text x="309.3" y="794.05" font-size="21.3" fill="#673a52" text-anchor="middle">+20</text>
<text x="304.9" y="822.32" font-size="21.3" fill="#673a52" text-anchor="middle">+18</text>
<text x="297.9" y="850.59" font-size="21.3" fill="#673a52" text-anchor="middle">+18</text>
<text x="293.3" y="878.86" font-size="21.3" fill="#673a52" text-anchor="middle">+18</text>
<text x="280.9" y="907.13" font-size="21.3" fill="#673a52" text-anchor="middle">+18</text>
<text x="282.3" y="935.40" font-size="21.3" fill="#673a52" text-anchor="middle">+17</text>
<text x="293.3" y="963.67" font-size="21.3" fill="#673a52" text-anchor="middle">+17</text>
<text x="270.9" y="991.94" font-size="21.3" fill="#673a52" text-anchor="middle">+16</text>
<text x="280.9" y="1020.21" font-size="21.3" fill="#673a52" text-anchor="middle">+15</text>
<text x="268.9" y="1048.48" font-size="21.3" fill="#673a52" text-anchor="middle">+15</text>
<text x="261.1" y="1076.75" font-size="21.3" fill="#673a52" text-anchor="middle">+15</text>
<text x="280.6" y="1105.02" font-size="21.3" fill="#673a52" text-anchor="middle">+14</text>
<text x="251.6" y="1133.29" font-size="21.3" fill="#673a52" text-anchor="middle">+13</text>
<text x="249.9" y="1161.56" font-size="21.3" fill="#673a52" text-anchor="middle">+12</text>
<text x="241.6" y="1189.83" font-size="21.3" fill="#673a52" text-anchor="middle">+10</text>
<text x="242.5" y="1218.10" font-size="21.3" fill="#673a52" text-anchor="middle">+9</text>
<text x="225.3" y="1246.37" font-size="21.3" fill="#673a52" text-anchor="middle">+9</text>
<text x="682.9" y="143.84" font-size="21.3" fill="#673a52" text-anchor="middle">+3</text>
<text x="684.6" y="172.11" font-size="21.3" fill="#673a52" text-anchor="middle">+4</text>
<text x="682.6" y="200.38" font-size="21.3" fill="#673a52" text-anchor="middle">+3</text>
<text x="679.1" y="228.65" font-size="21.3" fill="#673a52" text-anchor="middle">+3</text>
<text x="682.1" y="256.92" font-size="21.3" fill="#673a52" text-anchor="middle">+3</text>
<text x="680.9" y="313.46" font-size="21.3" fill="#673a52" text-anchor="middle">+3</text>
<text x="679.1" y="341.73" font-size="21.3" fill="#673a52" text-anchor="middle">+3</text>
<text x="690.6" y="370.00" font-size="21.3" fill="#673a52" text-anchor="middle">+5</text>
<text x="679.9" y="398.27" font-size="21.3" fill="#673a52" text-anchor="middle">+3</text>
<text x="684.9" y="426.54" font-size="21.3" fill="#673a52" text-anchor="middle">+3</text>
<text x="683.8" y="454.81" font-size="21.3" fill="#673a52" text-anchor="middle">+3</text>
<text x="678.3" y="483.08" font-size="21.3" fill="#673a52" text-anchor="middle">+2</text>
<text x="680.4" y="511.35" font-size="21.3" fill="#673a52" text-anchor="middle">+3</text>
<text x="688.8" y="539.62" font-size="21.3" fill="#673a52" text-anchor="middle">+4</text>
<text x="680.8" y="596.16" font-size="21.3" fill="#673a52" text-anchor="middle">+3</text>
<text x="677.6" y="624.43" font-size="21.3" fill="#673a52" text-anchor="middle">+3</text>
<text x="674.6" y="652.70" font-size="21.3" fill="#673a52" text-anchor="middle">+2</text>
<text x="685.1" y="680.97" font-size="21.3" fill="#673a52" text-anchor="middle">+3</text>
<text x="674.6" y="709.24" font-size="21.3" fill="#673a52" text-anchor="middle">+2</text>
<text x="677.4" y="737.51" font-size="21.3" fill="#673a52" text-anchor="middle">+2</text>
<text x="677.6" y="765.78" font-size="21.3" fill="#673a52" text-anchor="middle">+3</text>
<text x="682.4" y="794.05" font-size="21.3" fill="#673a52" text-anchor="middle">+3</text>
<text x="694.3" y="822.32" font-size="21.3" fill="#673a52" text-anchor="middle">+5</text>
<text x="675.4" y="850.59" font-size="21.3" fill="#673a52" text-anchor="middle">+2</text>
<text x="675.4" y="878.86" font-size="21.3" fill="#673a52" text-anchor="middle">+2</text>
<text x="684.1" y="907.13" font-size="21.3" fill="#673a52" text-anchor="middle">+4</text>
<text x="671.3" y="935.40" font-size="21.3" fill="#673a52" text-anchor="middle">+2</text>
<text x="675.3" y="963.67" font-size="21.3" fill="#673a52" text-anchor="middle">+2</text>
<text x="680.1" y="991.94" font-size="21.3" fill="#673a52" text-anchor="middle">+3</text>
<text x="675.4" y="1020.21" font-size="21.3" fill="#673a52" text-anchor="middle">+2</text>
<text x="676.3" y="1048.48" font-size="21.3" fill="#673a52" text-anchor="middle">+2</text>
<text x="669.3" y="1076.75" font-size="21.3" fill="#673a52" text-anchor="middle">+1</text>
<text x="685.6" y="1133.29" font-size="21.3" fill="#673a52" text-anchor="middle">+4</text>
<text x="670.6" y="1189.83" font-size="21.3" fill="#673a52" text-anchor="middle">+1</text>
</g>
<rect x="95.6" y="62.8" width="477.5" height="1474.7" fill="none" stroke="#333333" stroke-width="1.6"/>
<rect x="95.6" y="14.4" width="477.5" height="48.4" fill="#ffffff" stroke="#333333" stroke-width="1.6"/>
<line x1="94.8" y1="62.8" x2="573.9" y2="62.8" stroke="#333333" stroke-width="2.6"/>
<text x="334.4" y="49.2" font-size="30.1" fill="#1a1a1a" text-anchor="middle">Firearm</text>
<line x1="116.8" y1="1537.5" x2="116.8" y2="1544.7" stroke="#333333" stroke-width="2.1"/>
<text x="116.8" y="1567.3" font-size="22" fill="#4d4d4d" text-anchor="middle">0</text>
<line x1="241.1" y1="1537.5" x2="241.1" y2="1544.7" stroke="#333333" stroke-width="2.1"/>
<text x="241.1" y="1567.3" font-size="22" fill="#4d4d4d" text-anchor="middle">20</text>
<line x1="365.4" y1="1537.5" x2="365.4" y2="1544.7" stroke="#333333" stroke-width="2.1"/>
<text x="365.4" y="1567.3" font-size="22" fill="#4d4d4d" text-anchor="middle">40</text>
<line x1="489.7" y1="1537.5" x2="489.7" y2="1544.7" stroke="#333333" stroke-width="2.1"/>
<text x="489.7" y="1567.3" font-size="22" fill="#4d4d4d" text-anchor="middle">60</text>
<rect x="588.0" y="62.8" width="477.6" height="1474.7" fill="none" stroke="#333333" stroke-width="1.6"/>
<rect x="588.0" y="14.4" width="477.6" height="48.4" fill="#ffffff" stroke="#333333" stroke-width="1.6"/>
<line x1="587.2" y1="62.8" x2="1066.3999999999999" y2="62.8" stroke="#333333" stroke-width="2.6"/>
<text x="826.8" y="49.2" font-size="30.1" fill="#1a1a1a" text-anchor="middle">Non-Firearm</text>
<line x1="609.2" y1="1537.5" x2="609.2" y2="1544.7" stroke="#333333" stroke-width="2.1"/>
<text x="609.2" y="1567.3" font-size="22" fill="#4d4d4d" text-anchor="middle">0</text>
<line x1="733.5" y1="1537.5" x2="733.5" y2="1544.7" stroke="#333333" stroke-width="2.1"/>
<text x="733.5" y="1567.3" font-size="22" fill="#4d4d4d" text-anchor="middle">20</text>
<line x1="857.8" y1="1537.5" x2="857.8" y2="1544.7" stroke="#333333" stroke-width="2.1"/>
<text x="857.8" y="1567.3" font-size="22" fill="#4d4d4d" text-anchor="middle">40</text>
<line x1="982.1" y1="1537.5" x2="982.1" y2="1544.7" stroke="#333333" stroke-width="2.1"/>
<text x="982.1" y="1567.3" font-size="22" fill="#4d4d4d" text-anchor="middle">60</text>
<line x1="88.2" y1="79.60" x2="95.6" y2="79.60" stroke="#333333" stroke-width="2.1"/>
<text x="82" y="87.50" font-size="22" fill="#4d4d4d" text-anchor="end">US</text>
<line x1="88.2" y1="107.87" x2="95.6" y2="107.87" stroke="#333333" stroke-width="2.1"/>
<text x="82" y="115.77" font-size="22" fill="#4d4d4d" text-anchor="end">DC</text>
<line x1="88.2" y1="136.14" x2="95.6" y2="136.14" stroke="#333333" stroke-width="2.1"/>
<text x="82" y="144.04" font-size="22" fill="#4d4d4d" text-anchor="end">MO</text>
<line x1="88.2" y1="164.41" x2="95.6" y2="164.41" stroke="#333333" stroke-width="2.1"/>
<text x="82" y="172.31" font-size="22" fill="#4d4d4d" text-anchor="end">MI</text>
<line x1="88.2" y1="192.68" x2="95.6" y2="192.68" stroke="#333333" stroke-width="2.1"/>
<text x="82" y="200.58" font-size="22" fill="#4d4d4d" text-anchor="end">IL</text>
<line x1="88.2" y1="220.95" x2="95.6" y2="220.95" stroke="#333333" stroke-width="2.1"/>
<text x="82" y="228.85" font-size="22" fill="#4d4d4d" text-anchor="end">IN</text>
<line x1="88.2" y1="249.22" x2="95.6" y2="249.22" stroke="#333333" stroke-width="2.1"/>
<text x="82" y="257.12" font-size="22" fill="#4d4d4d" text-anchor="end">PA</text>
<line x1="88.2" y1="277.49" x2="95.6" y2="277.49" stroke="#333333" stroke-width="2.1"/>
<text x="82" y="285.39" font-size="22" fill="#4d4d4d" text-anchor="end">NE</text>
<line x1="88.2" y1="305.76" x2="95.6" y2="305.76" stroke="#333333" stroke-width="2.1"/>
<text x="82" y="313.66" font-size="22" fill="#4d4d4d" text-anchor="end">LA</text>
<line x1="88.2" y1="334.03" x2="95.6" y2="334.03" stroke="#333333" stroke-width="2.1"/>
<text x="82" y="341.93" font-size="22" fill="#4d4d4d" text-anchor="end">OH</text>
<line x1="88.2" y1="362.30" x2="95.6" y2="362.30" stroke="#333333" stroke-width="2.1"/>
<text x="82" y="370.20" font-size="22" fill="#4d4d4d" text-anchor="end">WI</text>
<line x1="88.2" y1="390.57" x2="95.6" y2="390.57" stroke="#333333" stroke-width="2.1"/>
<text x="82" y="398.47" font-size="22" fill="#4d4d4d" text-anchor="end">NJ</text>
<line x1="88.2" y1="418.84" x2="95.6" y2="418.84" stroke="#333333" stroke-width="2.1"/>
<text x="82" y="426.74" font-size="22" fill="#4d4d4d" text-anchor="end">OK</text>
<line x1="88.2" y1="447.11" x2="95.6" y2="447.11" stroke="#333333" stroke-width="2.1"/>
<text x="82" y="455.01" font-size="22" fill="#4d4d4d" text-anchor="end">CA</text>
<line x1="88.2" y1="475.38" x2="95.6" y2="475.38" stroke="#333333" stroke-width="2.1"/>
<text x="82" y="483.28" font-size="22" fill="#4d4d4d" text-anchor="end">TN</text>
<line x1="88.2" y1="503.65" x2="95.6" y2="503.65" stroke="#333333" stroke-width="2.1"/>
<text x="82" y="511.55" font-size="22" fill="#4d4d4d" text-anchor="end">MD</text>
<line x1="88.2" y1="531.92" x2="95.6" y2="531.92" stroke="#333333" stroke-width="2.1"/>
<text x="82" y="539.82" font-size="22" fill="#4d4d4d" text-anchor="end">AR</text>
<line x1="88.2" y1="560.19" x2="95.6" y2="560.19" stroke="#333333" stroke-width="2.1"/>
<text x="82" y="568.09" font-size="22" fill="#4d4d4d" text-anchor="end">DE</text>
<line x1="88.2" y1="588.46" x2="95.6" y2="588.46" stroke="#333333" stroke-width="2.1"/>
<text x="82" y="596.36" font-size="22" fill="#4d4d4d" text-anchor="end">AL</text>
<line x1="88.2" y1="616.73" x2="95.6" y2="616.73" stroke="#333333" stroke-width="2.1"/>
<text x="82" y="624.63" font-size="22" fill="#4d4d4d" text-anchor="end">KS</text>
<line x1="88.2" y1="645.00" x2="95.6" y2="645.00" stroke="#333333" stroke-width="2.1"/>
<text x="82" y="652.90" font-size="22" fill="#4d4d4d" text-anchor="end">FL</text>
<line x1="88.2" y1="673.27" x2="95.6" y2="673.27" stroke="#333333" stroke-width="2.1"/>
<text x="82" y="681.17" font-size="22" fill="#4d4d4d" text-anchor="end">MS</text>
<line x1="88.2" y1="701.54" x2="95.6" y2="701.54" stroke="#333333" stroke-width="2.1"/>
<text x="82" y="709.44" font-size="22" fill="#4d4d4d" text-anchor="end">KY</text>
<line x1="88.2" y1="729.81" x2="95.6" y2="729.81" stroke="#333333" stroke-width="2.1"/>
<text x="82" y="737.71" font-size="22" fill="#4d4d4d" text-anchor="end">SC</text>
<line x1="88.2" y1="758.08" x2="95.6" y2="758.08" stroke="#333333" stroke-width="2.1"/>
<text x="82" y="765.98" font-size="22" fill="#4d4d4d" text-anchor="end">CT</text>
<line x1="88.2" y1="786.35" x2="95.6" y2="786.35" stroke="#333333" stroke-width="2.1"/>
<text x="82" y="794.25" font-size="22" fill="#4d4d4d" text-anchor="end">NV</text>
<line x1="88.2" y1="814.62" x2="95.6" y2="814.62" stroke="#333333" stroke-width="2.1"/>
<text x="82" y="822.52" font-size="22" fill="#4d4d4d" text-anchor="end">WV</text>
<line x1="88.2" y1="842.89" x2="95.6" y2="842.89" stroke="#333333" stroke-width="2.1"/>
<text x="82" y="850.79" font-size="22" fill="#4d4d4d" text-anchor="end">NC</text>
<line x1="88.2" y1="871.16" x2="95.6" y2="871.16" stroke="#333333" stroke-width="2.1"/>
<text x="82" y="879.06" font-size="22" fill="#4d4d4d" text-anchor="end">GA</text>
<line x1="88.2" y1="899.43" x2="95.6" y2="899.43" stroke="#333333" stroke-width="2.1"/>
<text x="82" y="907.33" font-size="22" fill="#4d4d4d" text-anchor="end">NY</text>
<line x1="88.2" y1="927.70" x2="95.6" y2="927.70" stroke="#333333" stroke-width="2.1"/>
<text x="82" y="935.60" font-size="22" fill="#4d4d4d" text-anchor="end">VA</text>
<line x1="88.2" y1="955.97" x2="95.6" y2="955.97" stroke="#333333" stroke-width="2.1"/>
<text x="82" y="963.87" font-size="22" fill="#4d4d4d" text-anchor="end">AZ</text>
<line x1="88.2" y1="984.24" x2="95.6" y2="984.24" stroke="#333333" stroke-width="2.1"/>
<text x="82" y="992.14" font-size="22" fill="#4d4d4d" text-anchor="end">MA</text>
<line x1="88.2" y1="1012.51" x2="95.6" y2="1012.51" stroke="#333333" stroke-width="2.1"/>
<text x="82" y="1020.41" font-size="22" fill="#4d4d4d" text-anchor="end">TX</text>
<line x1="88.2" y1="1040.78" x2="95.6" y2="1040.78" stroke="#333333" stroke-width="2.1"/>
<text x="82" y="1048.68" font-size="22" fill="#4d4d4d" text-anchor="end">CO</text>
<line x1="88.2" y1="1069.05" x2="95.6" y2="1069.05" stroke="#333333" stroke-width="2.1"/>
<text x="82" y="1076.95" font-size="22" fill="#4d4d4d" text-anchor="end">MN</text>
<line x1="88.2" y1="1097.32" x2="95.6" y2="1097.32" stroke="#333333" stroke-width="2.1"/>
<text x="82" y="1105.22" font-size="22" fill="#4d4d4d" text-anchor="end">NM</text>
<line x1="88.2" y1="1125.59" x2="95.6" y2="1125.59" stroke="#333333" stroke-width="2.1"/>
<text x="82" y="1133.49" font-size="22" fill="#4d4d4d" text-anchor="end">IA</text>
<line x1="88.2" y1="1153.86" x2="95.6" y2="1153.86" stroke="#333333" stroke-width="2.1"/>
<text x="82" y="1161.76" font-size="22" fill="#4d4d4d" text-anchor="end">OR</text>
<line x1="88.2" y1="1182.13" x2="95.6" y2="1182.13" stroke="#333333" stroke-width="2.1"/>
<text x="82" y="1190.03" font-size="22" fill="#4d4d4d" text-anchor="end">WA</text>
<line x1="88.2" y1="1210.40" x2="95.6" y2="1210.40" stroke="#333333" stroke-width="2.1"/>
<text x="82" y="1218.30" font-size="22" fill="#4d4d4d" text-anchor="end">AK</text>
<line x1="88.2" y1="1238.67" x2="95.6" y2="1238.67" stroke="#333333" stroke-width="2.1"/>
<text x="82" y="1246.57" font-size="22" fill="#4d4d4d" text-anchor="end">RI</text>
<line x1="88.2" y1="1266.94" x2="95.6" y2="1266.94" stroke="#333333" stroke-width="2.1"/>
<text x="82" y="1274.84" font-size="22" fill="#4d4d4d" text-anchor="end">WY</text>
<line x1="88.2" y1="1295.21" x2="95.6" y2="1295.21" stroke="#333333" stroke-width="2.1"/>
<text x="82" y="1303.11" font-size="22" fill="#4d4d4d" text-anchor="end">MT</text>
<line x1="88.2" y1="1323.48" x2="95.6" y2="1323.48" stroke="#333333" stroke-width="2.1"/>
<text x="82" y="1331.38" font-size="22" fill="#4d4d4d" text-anchor="end">ME</text>
<line x1="88.2" y1="1351.75" x2="95.6" y2="1351.75" stroke="#333333" stroke-width="2.1"/>
<text x="82" y="1359.65" font-size="22" fill="#4d4d4d" text-anchor="end">ID</text>
<line x1="88.2" y1="1380.02" x2="95.6" y2="1380.02" stroke="#333333" stroke-width="2.1"/>
<text x="82" y="1387.92" font-size="22" fill="#4d4d4d" text-anchor="end">ND</text>
<line x1="88.2" y1="1408.29" x2="95.6" y2="1408.29" stroke="#333333" stroke-width="2.1"/>
<text x="82" y="1416.19" font-size="22" fill="#4d4d4d" text-anchor="end">UT</text>
<line x1="88.2" y1="1436.56" x2="95.6" y2="1436.56" stroke="#333333" stroke-width="2.1"/>
<text x="82" y="1444.46" font-size="22" fill="#4d4d4d" text-anchor="end">VT</text>
<line x1="88.2" y1="1464.83" x2="95.6" y2="1464.83" stroke="#333333" stroke-width="2.1"/>
<text x="82" y="1472.73" font-size="22" fill="#4d4d4d" text-anchor="end">SD</text>
<line x1="88.2" y1="1493.10" x2="95.6" y2="1493.10" stroke="#333333" stroke-width="2.1"/>
<text x="82" y="1501.00" font-size="22" fill="#4d4d4d" text-anchor="end">NH</text>
<line x1="88.2" y1="1521.37" x2="95.6" y2="1521.37" stroke="#333333" stroke-width="2.1"/>
<text x="82" y="1529.27" font-size="22" fill="#4d4d4d" text-anchor="end">HI</text>
<text x="354.4" y="1600.2" font-size="27.5" fill="#000000">Homicide rate (per</text>
<text x="589.7" y="1600.2" font-size="27.5" fill="#000000" textLength="96.6" lengthAdjust="spacingAndGlyphs">100,000</text>
<text x="695.6" y="1600.2" font-size="27.5" fill="#000000">per year)</text>
<text x="856.4" y="1005.3" font-size="27.5" fill="#000000">Race</text>
<circle cx="879.0" cy="1037.60" r="5.00" fill="#8f6287" stroke="#000000" stroke-width="2.0"/>
<circle cx="879.0" cy="1080.70" r="5.00" fill="#ffffff" stroke="#000000" stroke-width="2.0"/>
<text x="905.6" y="1045.9" font-size="21.9" fill="#000000">Black</text>
<text x="905.6" y="1089.1" font-size="21.9" fill="#000000">White</text>
<text x="856.4" y="1180.6" font-size="27.5" fill="#000000">Race-specific</text>
<text x="856.4" y="1210.6" font-size="27.5" fill="#000000">population</text>
<circle cx="879.2" cy="1263.70" r="1.70" fill="#ffffff" stroke="#000000" stroke-width="2.0"/>
<text x="905.6" y="1271.40" font-size="21.9" fill="#000000">10000</text>
<circle cx="879.2" cy="1306.85" r="3.10" fill="#ffffff" stroke="#000000" stroke-width="2.0"/>
<text x="905.6" y="1314.55" font-size="21.9" fill="#000000">100000</text>
<circle cx="879.2" cy="1350.00" r="5.50" fill="#ffffff" stroke="#000000" stroke-width="2.0"/>
<text x="905.6" y="1357.70" font-size="21.9" fill="#000000">500000</text>
<circle cx="879.2" cy="1393.15" r="8.20" fill="#ffffff" stroke="#000000" stroke-width="2.0"/>
<text x="905.6" y="1400.85" font-size="21.9" fill="#000000">1500000</text>
<circle cx="879.2" cy="1436.30" r="11.10" fill="#ffffff" stroke="#000000" stroke-width="2.0"/>
<text x="905.6" y="1444.00" font-size="21.9" fill="#000000">3000000</text>
<circle cx="879.2" cy="1479.45" r="16.10" fill="#ffffff" stroke="#000000" stroke-width="2.0"/>
<text x="905.6" y="1487.15" font-size="21.9" fill="#000000">7000000</text>
</svg>
</body></html>
